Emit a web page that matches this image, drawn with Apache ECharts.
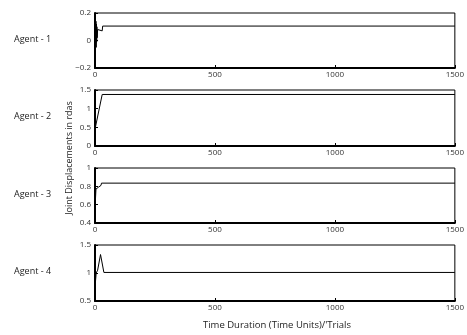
<!DOCTYPE html>
<html>
<head>
<meta charset="utf-8">
<script src="https://cdn.jsdelivr.net/npm/echarts@6/dist/echarts.min.js"></script>
<style>
body { margin: 0px; background: #fff; }
#main1 { width: 467px; height: 335px; }
</style>
</head>
<body>
<div id="main1"></div>
<script>
// time points and values
var agent1T = [0, 2, 3, 4, 5, 6, 7, 8, 9, 11, 13, 30, 32, 1500];
var agent1V = [0.05, 0.15, -0.02, 0.14, -0.05, 0.12, -0.01, 0.1, 0.02, 0.08, 0.07, 0.07, 0.105, 0.105];
var agent2T = [0, 30, 1500];
var agent2V = [0.45, 1.38, 1.38];
var agent3T = [0, 4, 12, 14, 18, 20, 25, 27, 1500];
var agent3V = [0.56, 0.77, 0.77, 0.79, 0.79, 0.81, 0.81, 0.835, 0.835];
var agent4T = [0, 5, 11, 23, 37, 1500];
var agent4V = [0.75, 1.0, 1.05, 1.33, 1.01, 1.01];

var yMins = [-0.2, 0, 0.4, 0.5];
var yMaxs = [0.2, 1.5, 1, 1.5];
var yIntervals = [0.2, 0.5, 0.2, 0.5];
var agentNames = ['Agent - 1', 'Agent - 2', 'Agent - 3', 'Agent - 4'];

var tops = [13, 90, 168, 245];
var heights = [55, 56, 55, 56];

function pairs(t, v) {
	var r = [];
	for (var i = 0; i < t.length; i++) r.push([t[i], v[i]]);
	return r;
}

var allData = [pairs(agent1T, agent1V), pairs(agent2T, agent2V), pairs(agent3T, agent3V), pairs(agent4T, agent4V)];

var grids = [], xAxes = [], yAxes = [], series = [], graphics = [];
var font = 'Open Sans';
for (var k = 0; k < 4; k++) {
	grids.push({ left: 95, right: 8, top: tops[k], height: heights[k], show: true, borderColor: '#000', borderWidth: 1 });
	xAxes.push({
		type: 'value', gridIndex: k, min: 0, max: 1500, interval: 500,
		axisLine: { show: true, onZero: false, lineStyle: { color: '#000', width: 2 } },
		axisTick: { show: true, inside: true, length: 3, lineStyle: { color: '#000' } },
		axisLabel: { color: '#333', fontSize: 8, fontFamily: font, margin: 3,
			formatter: function (v) { return String(v); } },
		splitLine: { show: false }
	});
	yAxes.push({
		type: 'value', gridIndex: k, min: yMins[k], max: yMaxs[k], interval: yIntervals[k],
		axisLine: { show: true, onZero: false, lineStyle: { color: '#000', width: 2 } },
		axisTick: { show: true, inside: true, length: 3, lineStyle: { color: '#000' } },
		axisLabel: { color: '#333', fontSize: 8, fontFamily: font, margin: 4,
			formatter: function (v) { return String(Math.round(v * 10) / 10).replace('-', '\u2212'); } },
		splitLine: { show: false }
	});
	series.push({
		type: 'line', xAxisIndex: k, yAxisIndex: k, data: allData[k],
		showSymbol: false, symbol: 'none', animation: false,
		lineStyle: { color: '#000', width: 1 }
	});
	graphics.push({
		type: 'text', x: 14, y: tops[k] + heights[k] / 2 - 6,
		style: { text: agentNames[k], fontSize: 9, fontFamily: font, fill: '#222' }
	});
}

graphics.push({
	type: 'text', x: 69, y: 158, rotation: Math.PI / 2,
	style: { text: 'Joint Displacements in rdas', fontSize: 9, fontFamily: font, fill: '#222', align: 'center', verticalAlign: 'middle' }
});
graphics.push({
	type: 'text', x: 277, y: 325,
	style: { text: "Time Duration (Time Units)/'Trials", fontSize: 9.5, fontFamily: font, fill: '#222', align: 'center', verticalAlign: 'middle' }
});

var myChart = echarts.init(document.getElementById('main1'));
myChart.setOption({
	animation: false,
	grid: grids,
	xAxis: xAxes,
	yAxis: yAxes,
	series: series,
	graphic: graphics
});
</script>
</body>
</html>
